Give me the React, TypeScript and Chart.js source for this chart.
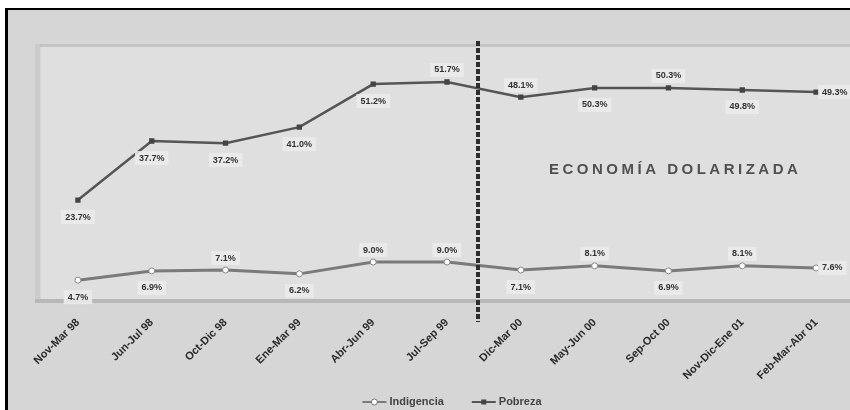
import React, { useEffect, useRef } from "react";
import { Chart, registerables } from "chart.js";

Chart.register(...registerables);

const categories = [
  "Nov-Mar 98",
  "Jun-Jul 98",
  "Oct-Dic 98",
  "Ene-Mar 99",
  "Abr-Jun 99",
  "Jul-Sep 99",
  "Dic-Mar 00",
  "May-Jun 00",
  "Sep-Oct 00",
  "Nov-Dic-Ene 01",
  "Feb-Mar-Abr 01",
];

const indigencia = [4.7, 6.9, 7.1, 6.2, 9.0, 9.0, 7.1, 8.1, 6.9, 8.1, 7.6];
const pobreza = [23.7, 37.7, 37.2, 41.0, 51.2, 51.7, 48.1, 50.3, 50.3, 49.8, 49.3];

const seriesNames = ["Indigencia", "Pobreza"];
const annotationText = "ECONOMÍA DOLARIZADA";
const dollarizationIndex = 5.42;

const labelPlacement = [
  ["below", "below", "above", "below", "above", "above", "below", "above", "below", "above", "right"],
  ["below", "below", "below", "below", "below", "above", "above", "below", "above", "below", "right"],
];

const FONT = "'Liberation Sans', Arial, sans-serif";

const decorPlugin = {
  id: "decor",
  beforeDraw(chart: any) {
    const { ctx, chartArea } = chart;
    const width = ctx.canvas.width;
    const height = ctx.canvas.height;
    ctx.save();
    ctx.fillStyle = "#d6d6d6";
    ctx.fillRect(0, 0, width, height);
    ctx.fillStyle = "#dfdfdf";
    ctx.fillRect(chartArea.left, chartArea.top, width - chartArea.left, chartArea.bottom - chartArea.top);
    ctx.fillStyle = "#c4c4c4";
    ctx.fillRect(chartArea.left - 6, chartArea.top - 3, width, 3);
    ctx.fillStyle = "#cbcbcb";
    ctx.fillRect(chartArea.left - 6, chartArea.top - 3, 5, chartArea.bottom - chartArea.top + 3);
    ctx.fillStyle = "#b8b8b8";
    ctx.fillRect(chartArea.left - 6, chartArea.bottom - 1, width, 4);
    ctx.restore();
  },
  afterDatasetsDraw(chart: any) {
    const { ctx, chartArea, scales } = chart;
    const xs = scales.x;
    ctx.save();
    const dx = xs.getPixelForValue(dollarizationIndex);
    ctx.strokeStyle = "#2e2e2e";
    ctx.lineWidth = 4;
    ctx.setLineDash([5, 2]);
    ctx.beginPath();
    ctx.moveTo(dx, chartArea.top - 6);
    ctx.lineTo(dx, chartArea.bottom + 22);
    ctx.stroke();
    ctx.setLineDash([]);

    ctx.fillStyle = "#505050";
    ctx.font = `bold 15px ${FONT}`;
    (ctx as any).letterSpacing = "3.5px";
    ctx.textAlign = "center";
    ctx.textBaseline = "middle";
    ctx.fillText(
      annotationText,
      chartArea.left + (chartArea.right - chartArea.left) * 0.781,
      chartArea.top + (chartArea.bottom - chartArea.top) * 0.486
    );
    (ctx as any).letterSpacing = "0px";

    ctx.font = `bold 9px ${FONT}`;
    chart.data.datasets.forEach((ds: any, di: number) => {
      const meta = chart.getDatasetMeta(di);
      meta.data.forEach((pt: any, i: number) => {
        const txt = ds.data[i].toFixed(1) + "%";
        const w = ctx.measureText(txt).width;
        const pos = labelPlacement[di][i];
        let cx = pt.x;
        let cy = pt.y;
        if (pos === "below") cy = pt.y + 17;
        else if (pos === "above") cy = pt.y - 12;
        else cx = pt.x + 6 + w / 2;
        ctx.fillStyle = "rgba(236,236,236,0.85)";
        ctx.fillRect(cx - w / 2 - 4, cy - 7, w + 8, 14);
        ctx.fillStyle = "#333333";
        ctx.textAlign = "center";
        ctx.textBaseline = "middle";
        ctx.fillText(txt, cx, cy);
      });
    });

    ctx.font = `bold 11px ${FONT}`;
    const lineW = 24;
    const gap = 3;
    const itemGap = 28;
    const widths = seriesNames.map((n) => lineW + gap + ctx.measureText(n).width);
    const total = widths[0] + widths[1] + itemGap;
    let lx = 444 - total / 2;
    const ly = 392;
    chart.data.datasets.forEach((ds: any, di: number) => {
      ctx.strokeStyle = ds.borderColor;
      ctx.lineWidth = 2;
      ctx.beginPath();
      ctx.moveTo(lx, ly);
      ctx.lineTo(lx + lineW, ly);
      ctx.stroke();
      if (di === 0) {
        ctx.fillStyle = "#ffffff";
        ctx.strokeStyle = "#777";
        ctx.lineWidth = 1;
        ctx.beginPath();
        ctx.arc(lx + lineW / 2, ly, 3, 0, Math.PI * 2);
        ctx.fill();
        ctx.stroke();
      } else {
        ctx.fillStyle = "#444";
        ctx.fillRect(lx + lineW / 2 - 2.5, ly - 2.5, 5, 5);
      }
      ctx.fillStyle = "#444";
      ctx.textAlign = "left";
      ctx.textBaseline = "middle";
      ctx.fillText(seriesNames[di], lx + lineW + gap, ly);
      lx += widths[di] + itemGap;
    });
    ctx.restore();
  },
};

export default function App() {
  const ref = useRef<HTMLCanvasElement>(null);
  useEffect(() => {
    document.body.style.margin = "0";
    document.body.style.overflow = "hidden";
    if (!ref.current) return;
    const chart = new Chart(ref.current, {
      type: "line",
      data: {
        labels: categories,
        datasets: [
          {
            label: seriesNames[0],
            data: indigencia,
            borderColor: "#7a7a7a",
            borderWidth: 3,
            pointStyle: "circle",
            pointRadius: 3,
            pointBackgroundColor: "#ffffff",
            pointBorderColor: "#8a8a8a",
            pointBorderWidth: 1,
            tension: 0,
          },
          {
            label: seriesNames[1],
            data: pobreza,
            borderColor: "#555555",
            borderWidth: 2.5,
            pointStyle: "rect",
            pointRadius: 2,
            pointBackgroundColor: "#444444",
            pointBorderColor: "#444444",
            tension: 0,
          },
        ],
      },
      options: {
        responsive: false,
        animation: false,
        layout: { padding: { left: 33, top: 37, right: 15, bottom: 0 } },
        plugins: { legend: { display: false }, tooltip: { enabled: false } },
        scales: {
          x: {
            offset: true,
            grid: { display: false },
            border: { display: false },
            ticks: {
              autoSkip: false,
              minRotation: 45,
              maxRotation: 45,
              padding: 8,
              color: "#2a2a2a",
              font: { family: FONT, weight: "bold", size: 11 },
            },
            afterFit(scale: any) {
              scale.height = 110;
            },
          },
          y: { display: false, min: 0, max: 60 },
        },
      },
      plugins: [decorPlugin],
    } as any);
    return () => chart.destroy();
  }, []);

  return (
    <div style={{ width: 850, height: 410, background: "#ffffff", overflow: "hidden" }}>
      <div
        style={{
          width: 842,
          height: 400,
          marginLeft: 5,
          marginTop: 8,
          borderLeft: "3px solid #000",
          borderTop: "2px solid #000",
          overflow: "hidden",
          background: "#d6d6d6",
        }}
      >
        <canvas ref={ref} width={860} height={400} style={{ display: "block" }} />
      </div>
    </div>
  );
}
